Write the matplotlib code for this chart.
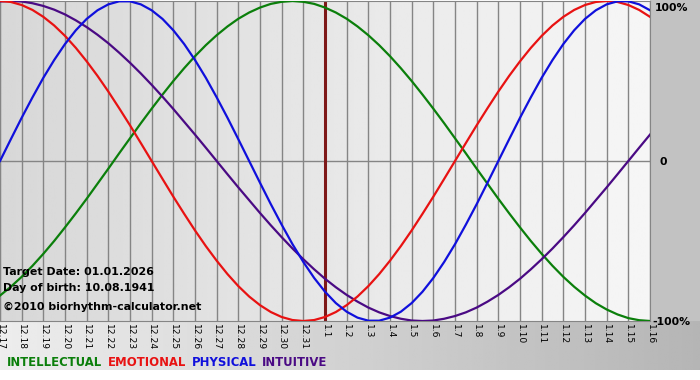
import numpy as np
import matplotlib
matplotlib.use('Agg')
import matplotlib.pyplot as plt
from matplotlib.text import Annotation

# day labels, 12.17 .. 1.16
days = ['12.%d' % d for d in range(17, 32)] + ['1.%d' % d for d in range(1, 17)]

# values every half day (-1 .. 1)
physical = [0.0, 0.136, 0.27, 0.398, 0.52, 0.631, 0.731, 0.817, 0.888, 0.942, 0.979, 0.998,
            0.998, 0.979, 0.942, 0.888, 0.817, 0.731, 0.631, 0.52, 0.398, 0.27, 0.136, 0.0,
            -0.136, -0.27, -0.398, -0.52, -0.631, -0.731, -0.817, -0.888, -0.942, -0.979, -0.998,
            -0.998, -0.979, -0.942, -0.888, -0.817, -0.731, -0.631, -0.52, -0.398, -0.27, -0.136,
            0.0, 0.136, 0.27, 0.398, 0.52, 0.631, 0.731, 0.817, 0.888, 0.942, 0.979, 0.998,
            0.998, 0.979, 0.942]
emotional = [1.0, 0.994, 0.975, 0.944, 0.901, 0.847, 0.782, 0.707, 0.623, 0.532, 0.434, 0.33,
             0.223, 0.112, 0.0, -0.112, -0.223, -0.33, -0.434, -0.532, -0.623, -0.707, -0.782,
             -0.847, -0.901, -0.944, -0.975, -0.994, -1.0, -0.994, -0.975, -0.944, -0.901, -0.847,
             -0.782, -0.707, -0.623, -0.532, -0.434, -0.33, -0.223, -0.112, 0.0, 0.112, 0.223,
             0.33, 0.434, 0.532, 0.623, 0.707, 0.782, 0.847, 0.901, 0.944, 0.975, 0.994, 1.0,
             0.994, 0.975, 0.944, 0.901]
intellectual = [-0.841, -0.786, -0.724, -0.655, -0.58, -0.5, -0.415, -0.327, -0.236, -0.142,
                -0.048, 0.048, 0.142, 0.236, 0.327, 0.415, 0.5, 0.58, 0.655, 0.724, 0.786,
                0.841, 0.889, 0.928, 0.959, 0.982, 0.995, 1.0, 0.995, 0.982, 0.959, 0.928,
                0.889, 0.841, 0.786, 0.724, 0.655, 0.58, 0.5, 0.415, 0.327, 0.236, 0.142, 0.048,
                -0.048, -0.142, -0.236, -0.327, -0.415, -0.5, -0.58, -0.655, -0.724, -0.786,
                -0.841, -0.889, -0.928, -0.959, -0.982, -0.995, -1.0]
intuitive = [0.997, 1.0, 0.997, 0.986, 0.969, 0.946, 0.916, 0.879, 0.837, 0.789, 0.736, 0.677,
             0.614, 0.547, 0.476, 0.402, 0.325, 0.245, 0.165, 0.083, 0.0, -0.083, -0.165,
             -0.245, -0.325, -0.402, -0.476, -0.547, -0.614, -0.677, -0.736, -0.789, -0.837,
             -0.879, -0.916, -0.946, -0.969, -0.986, -0.997, -1.0, -0.997, -0.986, -0.969,
             -0.946, -0.916, -0.879, -0.837, -0.789, -0.736, -0.677, -0.614, -0.547, -0.476,
             -0.402, -0.325, -0.245, -0.165, -0.083, 0.0, 0.083, 0.165]

target_idx = 15  # 1.1

W, H = 700, 380
fig = plt.figure(figsize=(W / 100, H / 100), dpi=100, facecolor='white')

def fx(px):
    return px / W

def fy(py):
    return 1 - py / H

# bottom gradient band
bb = fig.add_axes([0, fy(370), 1, (370 - 321) / H])
grad = np.linspace(0.93, 0.71, 256).reshape(1, -1)
bb.imshow(grad, cmap='gray', vmin=0, vmax=1, aspect='auto', extent=[0, 1, 0, 1])
bb.set_axis_off()

# grey strip on the right
rs = fig.add_axes([fx(650), fy(321), (W - 650) / W, 321 / H])
rs.set_facecolor('#c2c2c2')
rs.set_xticks([])
rs.set_yticks([])
for s in rs.spines.values():
    s.set_visible(False)

ax = fig.add_axes([0, fy(321), fx(650), 320 / H])
x = np.arange(len(days))
xh = np.arange(len(physical)) / 2
bg = np.linspace(0.845, 0.965, 256).reshape(1, -1)
ax.imshow(bg, cmap='gray', vmin=0, vmax=1, aspect='auto',
          extent=[0, len(days) - 1, -1, 1], zorder=0)

for i in x:
    ax.axvline(i, color='#858585', lw=1, zorder=1)
ax.axhline(0, color='#858585', lw=1, zorder=1)
ax.axvline(target_idx, color='#7e1818', lw=2.2, zorder=2)

ax.plot(xh, intellectual, color='#0b7f0b', lw=1.6, zorder=3)
ax.plot(xh, intuitive, color='#4a0a84', lw=1.6, zorder=3)
ax.plot(xh, emotional, color='#e81212', lw=1.6, zorder=4)
ax.plot(xh, physical, color='#1010dc', lw=1.6, zorder=4)

ax.set_xlim(0, len(days) - 1)
ax.set_ylim(-1, 1)
ax.set_yticks([])
ax.set_xticks(x)
ax.set_xticklabels(days, rotation=270, fontsize=6.6)
ax.tick_params(axis='x', length=0, pad=2)
for s in ax.spines.values():
    s.set_color('#858585')

bold = dict(fontweight='bold', family='DejaVu Sans')
fig.text(fx(3), fy(272), 'Target Date: 01.01.2026', fontsize=7.9, va='center', **bold)
fig.text(fx(3), fy(288), 'Day of birth: 10.08.1941', fontsize=7.9, va='center', **bold)
fig.text(fx(3), fy(307), '\u00a92010 biorhythm-calculator.net', fontsize=7.9, va='center', **bold)

fig.text(fx(655), fy(8), '100%', fontsize=7.8, va='center', **bold)
fig.text(fx(659), fy(162), '0', fontsize=7.8, va='center', **bold)
fig.text(fx(652), fy(322), '-100%', fontsize=7.8, va='center', **bold)

legend = [('INTELLECTUAL', '#0b7f0b'), ('EMOTIONAL', '#e81212'),
          ('PHYSICAL', '#1010dc'), ('INTUITIVE', '#4a0a84')]
prev = fig.text(fx(7), fy(362), legend[0][0], color=legend[0][1], fontsize=8.4,
                va='center', **bold)
for name, col in legend[1:]:
    prev = fig.add_artist(Annotation(
        name, xy=(1, 0.5), xycoords=prev, xytext=(4, 0), textcoords='offset points',
        color=col, fontsize=8.4, va='center', ha='left', **bold))

fig.savefig('out.png', dpi=100, facecolor=fig.get_facecolor())
